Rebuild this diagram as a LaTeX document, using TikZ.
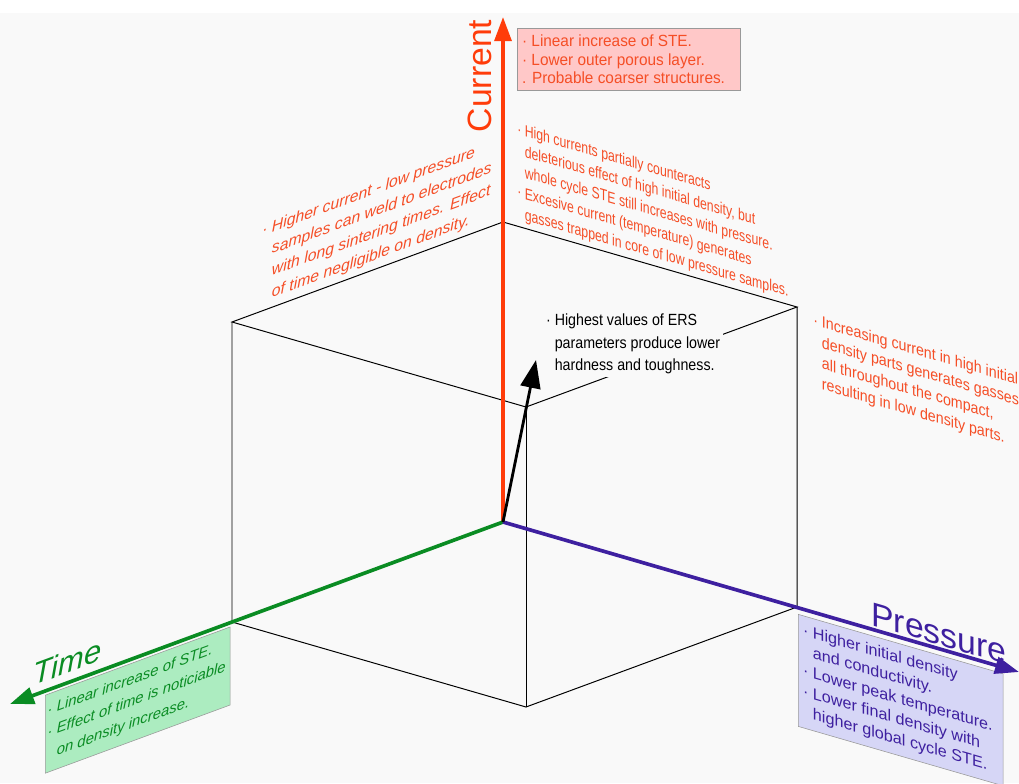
\documentclass[tikz,border=0pt]{standalone}
\usepackage{fontspec}
\setmainfont{Liberation Sans}
\usetikzlibrary{arrows.meta}

\definecolor{fundo}{RGB}{249,249,249}
\definecolor{vermelho}{RGB}{255,60,10}
\definecolor{laranja}{RGB}{245,78,38}
\definecolor{verde}{RGB}{10,140,35}
\definecolor{roxo}{RGB}{62,32,160}
\definecolor{rosa}{RGB}{255,200,200}
\definecolor{verdeclaro}{RGB}{172,236,192}
\definecolor{lilas}{RGB}{214,214,246}

\newcommand{\recuo}{\hphantom{· }}

\begin{document}
\begin{tikzpicture}[x=0.025cm, y=-0.025cm,
		aresta/.style={line width=0.7pt, black},
		eixo/.style={line width=2.6pt, -{Triangle[length=0.6cm, width=0.42cm]}},
		rotulo/.style={font=\fontsize{24}{28}\selectfont, inner sep=0pt},
		nota/.style={inner sep=0pt, align=left, anchor=north west},
		caixa/.style={draw=gray!80, line width=0.4pt, anchor=north west, align=flush left, inner xsep=0.12cm}]
		% Fundo
		\useasboundingbox (0,0) rectangle (1019,783);
		\fill[fundo] (0,0) rectangle (1019,783);
		\fill[white] (0,0) rectangle (1019,13);

		% Vertices do cubo
		\coordinate (O)  at (503,522);
		\coordinate (TL) at (232,322);
		\coordinate (TB) at (503,222);
		\coordinate (TR) at (797,307);
		\coordinate (TF) at (526,407);
		\coordinate (BL) at (232,622);
		\coordinate (BR) at (797,607);
		\coordinate (BF) at (526,707);

		% Cubo
		\draw[aresta] (TL) -- (TB) -- (TR) -- (TF) -- cycle;
		\draw[aresta] (TL) -- (BL) -- (BF) -- (BR) -- (TR);
		\draw[aresta] (TF) -- (BF);

		% Caixas coloridas
		\node[caixa, fill=rosa, text=laranja, minimum height=1.55cm, text width=5.33cm,
			font=\fontsize{11.5}{13.2}\selectfont\addfontfeature{FakeStretch=0.95}] (caixaCorrente) at (517,28)
			{· Linear increase of STE.\\ · Lower outer porous layer.\\ . Probable coarser structures.};
		\node[caixa, fill=verdeclaro, text=verde, yslant=0.369, minimum height=1.95cm, text width=4.5cm, inner xsep=0.06cm,
			font=\fontsize{10.6}{15.6}\selectfont\itshape] (caixaTempo) at (45,695)
			{· Linear increase of STE.\\ · Effect of time is noticiable\\ \recuo on density increase.};
		\node[caixa, fill=lilas, text=roxo, yslant=-0.29, minimum height=2.8cm, text width=4.88cm,
			font=\fontsize{11.5}{14.5}\selectfont] (caixaPressao) at (798,614)
			{· Higher initial density\\ \recuo and conductivity.\\ · Lower peak temperature.\\ · Lower final density with\\ \recuo higher global cycle STE.};

		% Eixos
		\coordinate (fimCorrente) at (503,17);
		\coordinate (fimTempo)    at (10,704);
		\coordinate (fimPressao)  at (1019,672);
		\draw[eixo, vermelho] (O) -- (fimCorrente);
		\draw[eixo, verde]    (O) -- (fimTempo);
		\draw[eixo, roxo]     (O) -- (fimPressao);

		% Rotulos dos eixos
		\node[rotulo, text=vermelho, rotate=90] (rotCorrente) at (480,76) {Current};
		\node[rotulo, text=verde, yslant=0.369, anchor=base west, font=\fontsize{22}{26}\selectfont\itshape] (rotTempo) at (33,686) {Time};
		\node[rotulo, text=roxo, yslant=-0.29, anchor=base west] (rotPressao) at (871,625) {Pressure};

		% Notas sobre as faces
		\node[nota, text=laranja, yslant=0.369, font=\fontsize{11.2}{15.6}\selectfont\itshape] (notaEsq) at (262,224)
			{· Higher current - low pressure\\ \recuo samples can weld to electrodes\\ \recuo with long sintering times. Effect\\ \recuo of time negligible on density.};
		\node[nota, text=laranja, yslant=-0.29, font=\fontsize{11.5}{14.9}\selectfont\addfontfeature{FakeStretch=0.76}] (notaTopo) at (517,122)
			{· High currents partially counteracts\\ \recuo deleterious effect of high initial density, but\\ \recuo whole cycle STE still increases with pressure.\\ · Excesive current (temperature) generates\\ \recuo gasses trapped in core of low pressure samples.};
		\node[nota, text=laranja, yslant=-0.29, font=\fontsize{11.5}{14.7}\selectfont\addfontfeature{FakeStretch=0.88}] (notaDir) at (813,313)
			{· Increasing current in high initial\\ \recuo density parts generates gasses\\ \recuo all throughout the compact,\\ \recuo resulting in low density parts.};

		% Nota central e seta
		\node[nota, fill=fundo, inner sep=2pt, font=\fontsize{11.5}{16}\selectfont\addfontfeature{FakeStretch=0.88}] (notaERS) at (543,311)
			{· Highest values of ERS\\ \recuo parameters produce lower\\ \recuo hardness and toughness.};
		\coordinate (pontaERS) at (536,360);
		\draw[line width=2pt, -{Triangle[length=0.7cm, width=0.5cm]}] (O) -- (pontaERS);
	\end{tikzpicture}
\end{document}
